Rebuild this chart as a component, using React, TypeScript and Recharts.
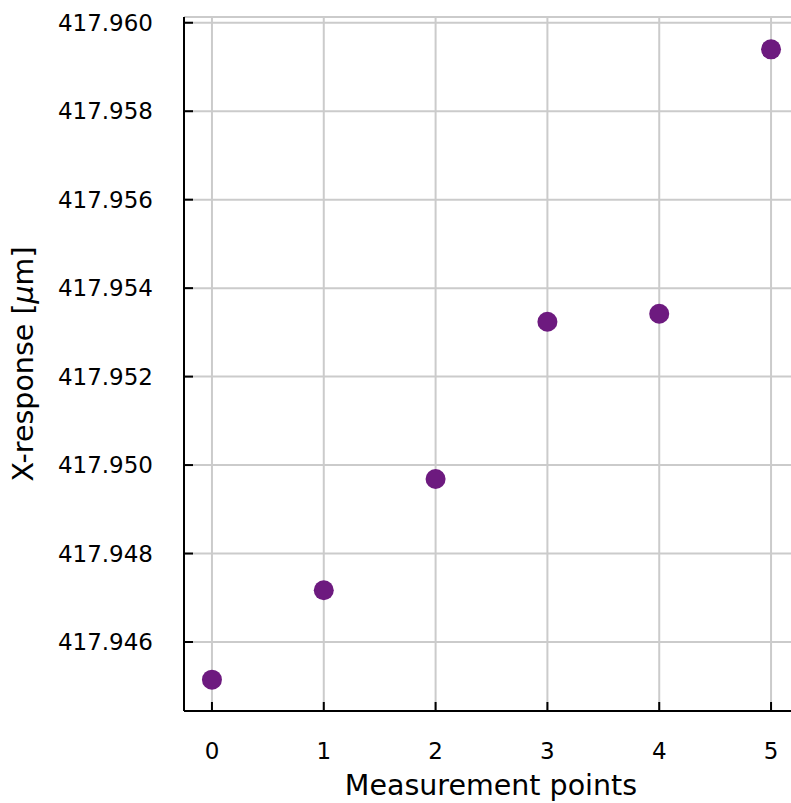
import { ScatterChart, Scatter, XAxis, YAxis, CartesianGrid } from "recharts";

const points = [0, 1, 2, 3, 4, 5];
const response = [417.945149, 417.947171, 417.949684, 417.95324, 417.953421, 417.959399];

const xTicks = [0, 1, 2, 3, 4, 5];
const yTicks = [417.946, 417.948, 417.95, 417.952, 417.954, 417.956, 417.958, 417.96];
const xDomain = [-0.25, 5.25];
const yDomain = [417.94444, 417.96013];

const data = points.map((p, i) => ({ x: p, y: response[i] }));

const FONT = "DejaVu Sans";
const TICK_FS = 23;
const LABEL_FS = 28.5;

const XTick = (props: any) => {
  const { x, y, payload } = props;
  return (
    <g>
      <line x1={x} x2={x} y1={y} y2={y - 9} stroke="#000" strokeWidth={2} />
      <text x={x} y={y + 48} textAnchor="middle" fontSize={TICK_FS} fontFamily={FONT} fill="#000">
        {payload.value}
      </text>
    </g>
  );
};

const YTick = (props: any) => {
  const { x, y, payload } = props;
  return (
    <g>
      <line x1={x} x2={x + 9} y1={y} y2={y} stroke="#000" strokeWidth={2} />
      <text x={x - 31} y={y + 8} textAnchor="end" fontSize={TICK_FS} fontFamily={FONT} fill="#000">
        {Number(payload.value).toFixed(3)}
      </text>
    </g>
  );
};

const YLabel = () => (
  <text
    x={33}
    y={364}
    transform="rotate(-90 33 364)"
    textAnchor="middle"
    fontSize={LABEL_FS}
    fontFamily={FONT}
    fill="#000"
  >
    X-response [<tspan fontStyle="italic">μ</tspan>m]
  </text>
);

const XLabel = () => (
  <text x={491} y={795} textAnchor="middle" fontSize={LABEL_FS} fontFamily={FONT} fill="#000">
    Measurement points
  </text>
);

export default function App() {
  return (
    <div style={{ position: "fixed", left: 0, top: 0, width: 791, height: 803, overflow: "hidden", background: "#fff" }}>
      <ScatterChart width={800} height={803} margin={{ top: 17, right: 1, left: 0, bottom: 0 }}>
        <CartesianGrid stroke="#cbcbcb" strokeWidth={2} />
        <XAxis
          type="number"
          dataKey="x"
          domain={xDomain}
          ticks={xTicks}
          allowDataOverflow
          height={92}
          tickSize={0}
          tickMargin={0}
          tickLine={false}
          axisLine={{ stroke: "#000", strokeWidth: 2 }}
          tick={<XTick />}
          label={{ content: () => <XLabel /> }}
        />
        <XAxis xAxisId="top" orientation="top" type="number" domain={xDomain} height={0} tick={false} tickLine={false} axisLine={{ stroke: "#000", strokeWidth: 2 }} />
        <YAxis
          type="number"
          dataKey="y"
          domain={yDomain}
          ticks={yTicks}
          allowDataOverflow
          width={184}
          tickSize={0}
          tickMargin={0}
          tickLine={false}
          axisLine={{ stroke: "#000", strokeWidth: 2 }}
          tick={<YTick />}
          label={{ content: () => <YLabel /> }}
        />
        <Scatter data={data} fill="#6d1a7f" isAnimationActive={false} shape={(p: any) => <circle cx={p.cx} cy={p.cy} r={10} fill="#6d1a7f" />} />
      </ScatterChart>
    </div>
  );
}
